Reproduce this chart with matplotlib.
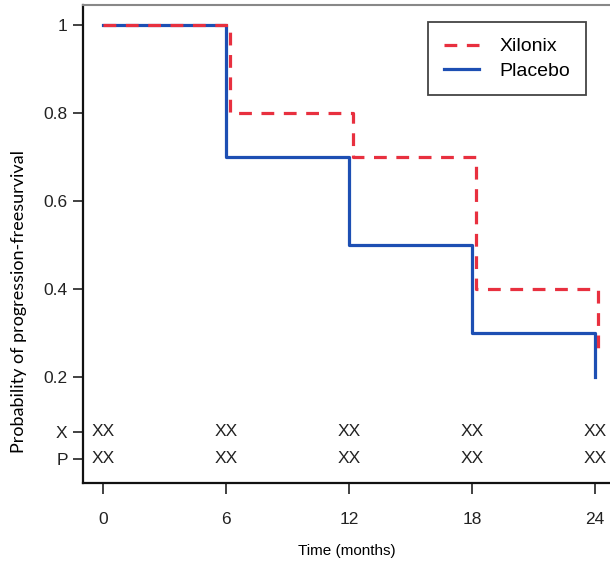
import matplotlib
matplotlib.use("Agg")
import matplotlib.pyplot as plt
from matplotlib.lines import Line2D

# Kaplan-Meier style step data
xil_time = [0, 6.2, 12.2, 18.2, 24.15]
xil_surv = [1.0, 0.8, 0.7, 0.4, 0.25]
pla_time = [0, 6.0, 12.0, 18.0, 24.0]
pla_surv = [1.0, 0.7, 0.5, 0.3, 0.2]

month_ticks = [0, 6, 12, 18, 24]
risk_x = ["XX", "XX", "XX", "XX", "XX"]
risk_p = ["XX", "XX", "XX", "XX", "XX"]
risk_rows = ["P", "X"]
risk_row_y = [0.014, 0.075]
prob_ticks = [0.2, 0.4, 0.6, 0.8, 1.0]
prob_labels = ["0.2", "0.4", "0.6", "0.8", "1"]

RED = "#e8303f"
BLUE = "#1d4fb3"
DASH = (0, (4, 3))

fig = plt.figure(figsize=(6.1, 5.65), dpi=100)
ax = fig.add_axes([83 / 610, 82 / 565, 527 / 610, 478 / 565])

ax.step(xil_time, xil_surv, where="post", color=RED, lw=2.3,
        linestyle=DASH, label="Xilonix", zorder=3)
ax.step(pla_time, pla_surv, where="post", color=BLUE, lw=2.3,
        label="Placebo", zorder=2)

ax.set_xlim(-0.97, 24.73)
ax.set_ylim(-0.041, 1.045)

# number-at-risk rows
for t, a, b in zip(month_ticks, risk_x, risk_p):
    ax.text(t, risk_row_y[1], a, ha="center", va="center", fontsize=12.5,
            family="Liberation Sans", color="#222222")
    ax.text(t, risk_row_y[0], b, ha="center", va="center", fontsize=12.5,
            family="Liberation Sans", color="#222222")

ax.set_yticks(risk_row_y + prob_ticks)
ax.set_yticklabels(risk_rows + prob_labels)
ax.set_xticks(month_ticks)
ax.set_xticklabels([str(m) for m in month_ticks])

for lab in ax.get_yticklabels() + ax.get_xticklabels():
    lab.set_family("Liberation Sans")
    lab.set_fontsize(12.5)
    lab.set_color("#222222")

ax.tick_params(axis="y", direction="out", length=7, width=1.3, pad=4, color="#333333")
ax.tick_params(axis="x", direction="out", length=8, width=1.3, pad=13, color="#333333")

ax.spines["right"].set_visible(False)
ax.spines["top"].set_color("#888888")
ax.spines["top"].set_linewidth(1.5)
ax.spines["left"].set_linewidth(1.6)
ax.spines["bottom"].set_linewidth(1.6)
ax.spines["left"].set_color("#111111")
ax.spines["bottom"].set_color("#111111")

ax.set_xlabel("Time (months)", family="Liberation Sans", fontsize=11, labelpad=12)
ax.set_ylabel("Probability of progression-freesurvival", family="Lato",
              fontsize=13)
ax.yaxis.set_label_coords(-0.106, 0.38)

handles = [Line2D([], [], color=RED, lw=2.3, linestyle=DASH),
           Line2D([], [], color=BLUE, lw=2.3)]
leg = ax.legend(handles, ["Xilonix", "Placebo"], loc="upper right",
                bbox_to_anchor=(0.954, 0.964), borderaxespad=0, fancybox=False,
                framealpha=1, edgecolor="#444444", handlelength=1.8,
                prop={"family": "Liberation Sans", "size": 14},
                borderpad=0.8, labelspacing=0.35, handletextpad=1.05)
leg.get_frame().set_linewidth(1.3)

fig.savefig("out.png", dpi=100)
